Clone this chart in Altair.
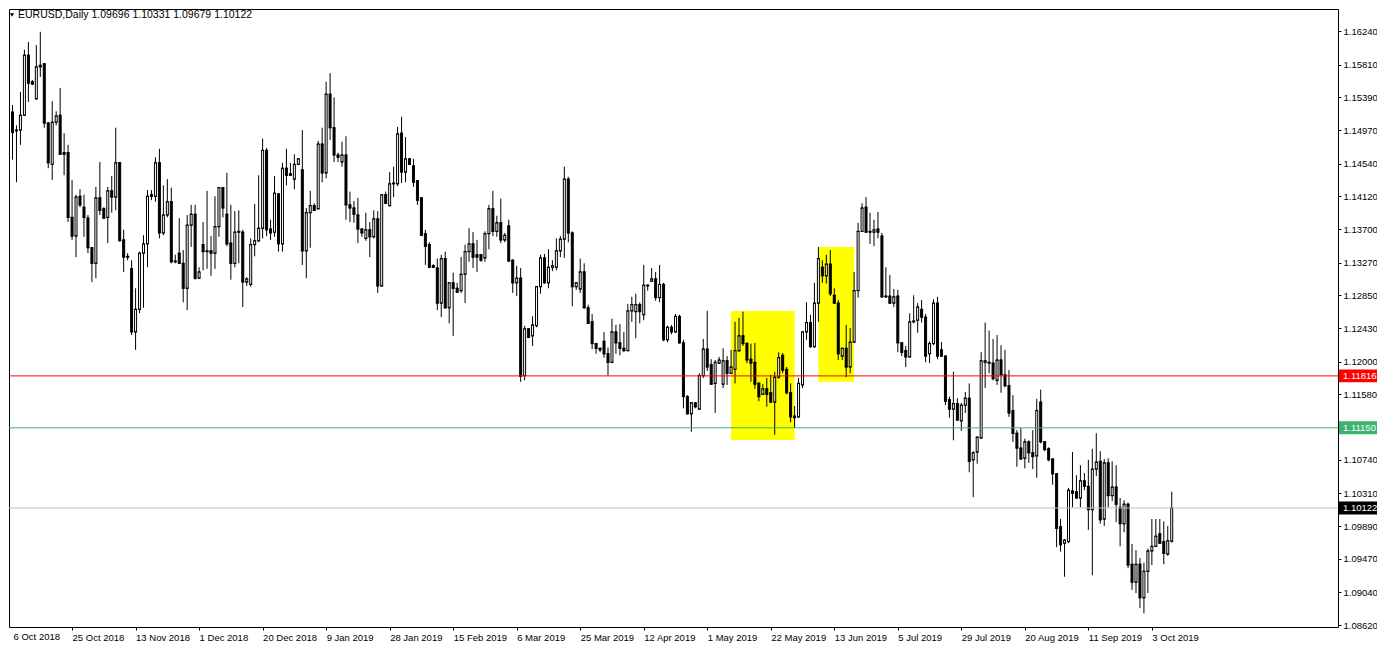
import json
import altair as alt
import pandas as pd

SYMBOL = "EURUSD,Daily"

OPEN = [
    1.1525, 1.1520, 1.1497, 1.1497, 1.1516, 1.1593, 1.1559, 1.1537, 1.1578, 1.1582,
    1.1506, 1.1453, 1.1507, 1.1516, 1.1468, 1.1468, 1.1385, 1.1361, 1.1412, 1.1398,
    1.1384, 1.1346, 1.1326, 1.1410, 1.1396, 1.1385, 1.1419, 1.1411, 1.1455, 1.1356,
    1.1335, 1.1319, 1.1238, 1.1267, 1.1339, 1.1351, 1.1414, 1.1412, 1.1455, 1.1365,
    1.1388, 1.1405, 1.1329, 1.1339, 1.1326, 1.1294, 1.1375, 1.1389, 1.1307, 1.1350,
    1.1342, 1.1342, 1.1339, 1.1373, 1.1423, 1.1389, 1.1352, 1.1326, 1.1367, 1.1366,
    1.1302, 1.1299, 1.1350, 1.1355, 1.1371, 1.1471, 1.1370, 1.1366, 1.1415, 1.1351,
    1.1448, 1.1441, 1.1434, 1.1453, 1.1446, 1.1342, 1.1391, 1.1400, 1.1396, 1.1479,
    1.1442, 1.1543, 1.1500, 1.1465, 1.1456, 1.1465, 1.1401, 1.1397, 1.1388, 1.1370,
    1.1358, 1.1369, 1.1360, 1.1383, 1.1297, 1.1414, 1.1400, 1.1428, 1.1428, 1.1493,
    1.1443, 1.1460, 1.1451, 1.1432, 1.1410, 1.1364, 1.1350, 1.1323, 1.1320, 1.1275,
    1.1332, 1.1269, 1.1301, 1.1294, 1.1291, 1.1312, 1.1341, 1.1351, 1.1337, 1.1337,
    1.1333, 1.1364, 1.1396, 1.1367, 1.1378, 1.1356, 1.1374, 1.1330, 1.1301, 1.1307,
    1.1182, 1.1242, 1.1233, 1.1246, 1.1296, 1.1333, 1.1301, 1.1321, 1.1321, 1.1342,
    1.1357, 1.1434, 1.1365, 1.1296, 1.1293, 1.1315, 1.1269, 1.1251, 1.1223, 1.1217,
    1.1226, 1.1210, 1.1199, 1.1238, 1.1224, 1.1217, 1.1214, 1.1265, 1.1264, 1.1273,
    1.1260, 1.1297, 1.1303, 1.1306, 1.1282, 1.1299, 1.1228, 1.1244, 1.1238, 1.1258,
    1.1224, 1.1155, 1.1133, 1.1147, 1.1139, 1.1182, 1.1216, 1.1196, 1.1172, 1.1198,
    1.1171, 1.1201, 1.1185, 1.1190, 1.1214, 1.1233, 1.1223, 1.1203, 1.1199, 1.1172,
    1.1158, 1.1165, 1.1160, 1.1148, 1.1180, 1.1208, 1.1190, 1.1160, 1.1130, 1.1129,
    1.1170, 1.1238, 1.1250, 1.1219, 1.1275, 1.1321, 1.1310, 1.1325, 1.1285, 1.1275,
    1.1207, 1.1217, 1.1193, 1.1225, 1.1291, 1.1367, 1.1398, 1.1367, 1.1366, 1.1370,
    1.1361, 1.1283, 1.1284, 1.1275, 1.1284, 1.1224, 1.1214, 1.1206, 1.1251, 1.1253,
    1.1267, 1.1257, 1.1210, 1.1223, 1.1275, 1.1215, 1.1207, 1.1151, 1.1139, 1.1146,
    1.1124, 1.1144, 1.1153, 1.1074, 1.1084, 1.1102, 1.1199, 1.1199, 1.1198, 1.1176,
    1.1202, 1.1183, 1.1169, 1.1137, 1.1108, 1.1089, 1.1076, 1.1097, 1.1083, 1.1079,
    1.1148, 1.1097, 1.1088, 1.1075, 1.1056, 1.0988, 1.0967, 1.0969, 1.1034, 1.1033,
    1.1025, 1.1047, 1.1040, 1.1010, 1.1062, 1.1072, 1.0998, 1.1070, 1.1028, 1.1039,
    1.1013, 1.0992, 1.1017, 1.0940, 1.0917, 1.0940, 1.0897, 1.0931, 1.0957, 1.0963,
    1.0979, 1.0969, 1.0953, 1.09696,
]

HIGH = [
    1.1528, 1.1529, 1.1503, 1.1546, 1.1600, 1.1610, 1.1561, 1.1606, 1.1623, 1.1583,
    1.1507, 1.1534, 1.1521, 1.1551, 1.1493, 1.1478, 1.1433, 1.1414, 1.1421, 1.1414,
    1.1388, 1.1347, 1.1424, 1.1456, 1.1398, 1.1424, 1.1438, 1.1500, 1.1456, 1.1369,
    1.1339, 1.1330, 1.1294, 1.1341, 1.1362, 1.1420, 1.1420, 1.1462, 1.1473, 1.1426,
    1.1434, 1.1423, 1.1337, 1.1384, 1.1343, 1.1388, 1.1401, 1.1401, 1.1321, 1.1379,
    1.1419, 1.1361, 1.1412, 1.1424, 1.1424, 1.1442, 1.1401, 1.1393, 1.1394, 1.1369,
    1.1308, 1.1358, 1.1402, 1.1439, 1.1486, 1.1474, 1.1382, 1.1438, 1.1416, 1.1455,
    1.1473, 1.1455, 1.1466, 1.1461, 1.1497, 1.1397, 1.1419, 1.1403, 1.1483, 1.1500,
    1.1559, 1.1570, 1.1539, 1.1468, 1.1482, 1.1489, 1.1418, 1.1406, 1.1410, 1.1371,
    1.1391, 1.1379, 1.1394, 1.1393, 1.1415, 1.1418, 1.1443, 1.1450, 1.1501, 1.1514,
    1.1488, 1.1461, 1.1460, 1.1432, 1.1410, 1.1369, 1.1353, 1.1325, 1.1332, 1.1337,
    1.1341, 1.1302, 1.1314, 1.1301, 1.1334, 1.1350, 1.1371, 1.1366, 1.1356, 1.1338,
    1.1367, 1.1401, 1.1419, 1.1387, 1.1409, 1.1365, 1.1382, 1.1331, 1.1323, 1.1320,
    1.1246, 1.1243, 1.1258, 1.1297, 1.1337, 1.1338, 1.1344, 1.1330, 1.1358, 1.1361,
    1.1450, 1.1437, 1.1367, 1.1302, 1.1332, 1.1326, 1.1273, 1.1261, 1.1224, 1.1218,
    1.1238, 1.1218, 1.1255, 1.1247, 1.1248, 1.1238, 1.1274, 1.1283, 1.1287, 1.1276,
    1.1324, 1.1299, 1.1320, 1.1315, 1.1324, 1.1301, 1.1246, 1.1247, 1.1261, 1.1260,
    1.1228, 1.1157, 1.1148, 1.1148, 1.1185, 1.1229, 1.1265, 1.1203, 1.1202, 1.1206,
    1.1217, 1.1207, 1.1215, 1.1251, 1.1256, 1.1264, 1.1225, 1.1223, 1.1224, 1.1174,
    1.1171, 1.1179, 1.1183, 1.1187, 1.1212, 1.1211, 1.1193, 1.1172, 1.1143, 1.1179,
    1.1239, 1.1276, 1.1260, 1.1301, 1.1347, 1.1330, 1.1337, 1.1343, 1.1294, 1.1279,
    1.1218, 1.1247, 1.1243, 1.1315, 1.1378, 1.1403, 1.1411, 1.1391, 1.1382, 1.1392,
    1.1365, 1.1321, 1.1311, 1.1293, 1.1292, 1.1225, 1.1220, 1.1262, 1.1285, 1.1275,
    1.1279, 1.1261, 1.1226, 1.1280, 1.1283, 1.1225, 1.1208, 1.1155, 1.1187, 1.1153,
    1.1147, 1.1161, 1.1172, 1.1085, 1.1104, 1.1212, 1.1250, 1.1240, 1.1229, 1.1234,
    1.1221, 1.1215, 1.1189, 1.1157, 1.1112, 1.1115, 1.1101, 1.1099, 1.1112, 1.1152,
    1.1164, 1.1098, 1.1090, 1.1076, 1.1057, 1.0998, 1.0972, 1.1038, 1.1084, 1.1054,
    1.1067, 1.1057, 1.1074, 1.1088, 1.1108, 1.1085, 1.1075, 1.1076, 1.1072, 1.1067,
    1.1025, 1.1022, 1.1019, 1.0966, 1.0958, 1.0948, 1.0942, 1.0960, 1.0998, 1.0998,
    1.0998, 1.0995, 1.0989, 1.10331,
]

LOW = [
    1.1515, 1.1459, 1.1430, 1.1478, 1.1515, 1.1533, 1.1555, 1.1536, 1.1565, 1.1500,
    1.1448, 1.1433, 1.1503, 1.1465, 1.1439, 1.1379, 1.1356, 1.1334, 1.1398, 1.1360,
    1.1339, 1.1302, 1.1307, 1.1388, 1.1383, 1.1352, 1.1391, 1.1394, 1.1354, 1.1315,
    1.1330, 1.1234, 1.1215, 1.1262, 1.1269, 1.1321, 1.1407, 1.1405, 1.1358, 1.1362,
    1.1385, 1.1326, 1.1326, 1.1325, 1.1276, 1.1266, 1.1347, 1.1305, 1.1306, 1.1317,
    1.1319, 1.1310, 1.1319, 1.1360, 1.1385, 1.1348, 1.1305, 1.1321, 1.1326, 1.1270,
    1.1297, 1.1296, 1.1335, 1.1353, 1.1358, 1.1361, 1.1356, 1.1360, 1.1341, 1.1341,
    1.1426, 1.1438, 1.1421, 1.1452, 1.1324, 1.1307, 1.1346, 1.1393, 1.1395, 1.1430,
    1.1435, 1.1484, 1.1456, 1.1456, 1.1450, 1.1382, 1.1379, 1.1378, 1.1352, 1.1360,
    1.1355, 1.1334, 1.1358, 1.1288, 1.1296, 1.1402, 1.1399, 1.1411, 1.1425, 1.1429,
    1.1430, 1.1452, 1.1424, 1.1401, 1.1361, 1.1324, 1.1320, 1.1320, 1.1266, 1.1257,
    1.1268, 1.1249, 1.1233, 1.1288, 1.1288, 1.1275, 1.1328, 1.1320, 1.1315, 1.1328,
    1.1328, 1.1344, 1.1361, 1.1360, 1.1352, 1.1353, 1.1328, 1.1288, 1.1284, 1.1174,
    1.1176, 1.1230, 1.1220, 1.1244, 1.1287, 1.1300, 1.1294, 1.1316, 1.1317, 1.1334,
    1.1333, 1.1353, 1.1271, 1.1292, 1.1288, 1.1268, 1.1248, 1.1216, 1.1210, 1.1212,
    1.1205, 1.1182, 1.1198, 1.1210, 1.1208, 1.1212, 1.1213, 1.1251, 1.1230, 1.1249,
    1.1253, 1.1291, 1.1302, 1.1278, 1.1276, 1.1226, 1.1225, 1.1235, 1.1237, 1.1223,
    1.1140, 1.1132, 1.1110, 1.1140, 1.1138, 1.1179, 1.1188, 1.1170, 1.1134, 1.1197,
    1.1166, 1.1170, 1.1184, 1.1172, 1.1212, 1.1220, 1.1198, 1.1174, 1.1165, 1.1149,
    1.1157, 1.1142, 1.1147, 1.1106, 1.1178, 1.1185, 1.1158, 1.1122, 1.1115, 1.1128,
    1.1166, 1.1228, 1.1218, 1.1218, 1.1251, 1.1301, 1.1300, 1.1284, 1.1274, 1.1202,
    1.1202, 1.1180, 1.1185, 1.1224, 1.1282, 1.1366, 1.1365, 1.1351, 1.1348, 1.1358,
    1.1282, 1.1282, 1.1274, 1.1270, 1.1212, 1.1207, 1.1193, 1.1205, 1.1249, 1.1237,
    1.1250, 1.1199, 1.1198, 1.1221, 1.1203, 1.1206, 1.1144, 1.1128, 1.1099, 1.1124,
    1.1111, 1.1134, 1.1058, 1.1026, 1.1069, 1.1101, 1.1166, 1.1185, 1.1176, 1.1170,
    1.1160, 1.1167, 1.1129, 1.1097, 1.1065, 1.1074, 1.1063, 1.1070, 1.1062, 1.1051,
    1.1095, 1.1085, 1.1072, 1.1042, 1.0962, 1.0956, 1.0924, 1.0967, 1.1013, 1.1024,
    1.1013, 1.1035, 1.0984, 1.0926, 1.1053, 1.0992, 1.0989, 1.1013, 1.1021, 1.0994,
    1.0963, 1.0981, 1.0935, 1.0907, 1.0903, 1.0884, 1.0877, 1.0903, 1.0939, 1.0962,
    1.0966, 1.0940, 1.0951, 1.09679,
]

CLOSE = [
    1.1518, 1.1494, 1.1496, 1.1516, 1.1593, 1.1557, 1.1556, 1.1578, 1.1580, 1.1506,
    1.1455, 1.1507, 1.1515, 1.1466, 1.1466, 1.1385, 1.1361, 1.1411, 1.1401, 1.1385,
    1.1346, 1.1326, 1.1410, 1.1394, 1.1384, 1.1419, 1.1411, 1.1455, 1.1355, 1.1334,
    1.1334, 1.1238, 1.1267, 1.1339, 1.1351, 1.1412, 1.1412, 1.1455, 1.1365, 1.1388,
    1.1405, 1.1328, 1.1328, 1.1326, 1.1294, 1.1375, 1.1389, 1.1307, 1.1315, 1.1341,
    1.1341, 1.1339, 1.1373, 1.1423, 1.1397, 1.1351, 1.1326, 1.1366, 1.1366, 1.1302,
    1.1306, 1.1350, 1.1355, 1.1371, 1.1471, 1.1369, 1.1365, 1.1416, 1.1351, 1.1448,
    1.1439, 1.1439, 1.1453, 1.1460, 1.1342, 1.1391, 1.1400, 1.1394, 1.1479, 1.1442,
    1.1543, 1.1500, 1.1465, 1.1462, 1.1465, 1.1401, 1.1397, 1.1389, 1.1370, 1.1365,
    1.1369, 1.1360, 1.1383, 1.1297, 1.1414, 1.1403, 1.1428, 1.1429, 1.1492, 1.1443,
    1.1460, 1.1453, 1.1430, 1.1407, 1.1362, 1.1348, 1.1321, 1.1321, 1.1275, 1.1332,
    1.1269, 1.1301, 1.1294, 1.1289, 1.1312, 1.1341, 1.1351, 1.1334, 1.1334, 1.1330,
    1.1364, 1.1396, 1.1367, 1.1378, 1.1356, 1.1362, 1.1329, 1.1301, 1.1307, 1.1181,
    1.1242, 1.1231, 1.1247, 1.1296, 1.1333, 1.1301, 1.1321, 1.1323, 1.1342, 1.1357,
    1.1434, 1.1365, 1.1296, 1.1301, 1.1315, 1.1269, 1.1249, 1.1223, 1.1217, 1.1215,
    1.1210, 1.1199, 1.1238, 1.1224, 1.1217, 1.1214, 1.1265, 1.1273, 1.1273, 1.1264,
    1.1298, 1.1298, 1.1306, 1.1282, 1.1299, 1.1228, 1.1244, 1.1238, 1.1258, 1.1224,
    1.1155, 1.1133, 1.1147, 1.1142, 1.1182, 1.1216, 1.1193, 1.1171, 1.1199, 1.1202,
    1.1201, 1.1185, 1.1193, 1.1214, 1.1233, 1.1223, 1.1202, 1.1198, 1.1171, 1.1155,
    1.1165, 1.1158, 1.1148, 1.1180, 1.1205, 1.1189, 1.1160, 1.1129, 1.1128, 1.1172,
    1.1238, 1.1250, 1.1219, 1.1275, 1.1332, 1.1310, 1.1325, 1.1287, 1.1275, 1.1210,
    1.1217, 1.1193, 1.1225, 1.1291, 1.1367, 1.1397, 1.1366, 1.1366, 1.1369, 1.1366,
    1.1283, 1.1284, 1.1275, 1.1283, 1.1224, 1.1212, 1.1206, 1.1251, 1.1252, 1.1270,
    1.1257, 1.1207, 1.1223, 1.1275, 1.1207, 1.1207, 1.1149, 1.1139, 1.1146, 1.1125,
    1.1144, 1.1153, 1.1072, 1.1083, 1.1103, 1.1201, 1.1201, 1.1198, 1.1178, 1.1202,
    1.1183, 1.1169, 1.1134, 1.1108, 1.1089, 1.1075, 1.1097, 1.1083, 1.1078, 1.1137,
    1.1097, 1.1087, 1.1074, 1.1056, 1.0986, 1.0965, 1.0971, 1.1035, 1.1031, 1.1025,
    1.1047, 1.1040, 1.1010, 1.1062, 1.1071, 1.0997, 1.1070, 1.1028, 1.1039, 1.1017,
    1.0992, 1.1017, 1.0939, 1.0917, 1.0940, 1.0897, 1.0931, 1.0957, 1.0963, 1.0976,
    1.0967, 1.0954, 1.0970, 1.10122,
]

DATE_LABELS = [
    "6 Oct 2018", "25 Oct 2018", "13 Nov 2018", "1 Dec 2018", "20 Dec 2018",
    "9 Jan 2019", "28 Jan 2019", "15 Feb 2019", "6 Mar 2019", "25 Mar 2019",
    "12 Apr 2019", "1 May 2019", "22 May 2019", "13 Jun 2019", "5 Jul 2019",
    "29 Jul 2019", "20 Aug 2019", "11 Sep 2019", "3 Oct 2019",
]
DATE_STEP = 16  # bars between two date labels

PRICE_TICKS = [
    1.16240, 1.15810, 1.15390, 1.14970, 1.14540, 1.14120, 1.13700, 1.13270,
    1.12850, 1.12430, 1.12000, 1.11580, 1.11150, 1.10740, 1.10310, 1.09890,
    1.09470, 1.09040, 1.08620,
]

LEVEL_PRICES = [1.11816, 1.11150]
LEVEL_COLORS = ["#ff0000", "#3cb371"]
BID_COLOR = "#c0c0c0"

ZONE_START = [182, 204]
ZONE_END = [198, 213]
ZONE_TOP = [1.12649, 1.13470]
ZONE_BOTTOM = [1.10994, 1.11742]

FONT = "Liberation Sans"
PLOT_W, PLOT_H = 1329, 618

n = len(OPEN)
bars = pd.DataFrame({"i": list(range(n)), "open": OPEN, "high": HIGH,
                     "low": LOW, "close": CLOSE})
bars["top"] = bars[["open", "close"]].max(axis=1)
bars["bottom"] = bars[["open", "close"]].min(axis=1)
bars["dir"] = ["up" if c >= o else "down" for o, c in zip(OPEN, CLOSE)]

x_scale = alt.Scale(domain=[1.375, 333.625], nice=False, zero=False)
y_scale = alt.Scale(domain=[1.08595, 1.165225], nice=False, zero=False)

label_expr = json.dumps(DATE_LABELS) + "[round(datum.value / %d)]" % DATE_STEP
x_axis = alt.Axis(
    values=[DATE_STEP * j for j in range(1, len(DATE_LABELS))],
    labelExpr=label_expr, labelAlign="left", labelBaseline="top",
    labelFont=FONT, labelFontSize=9.5, labelColor="black",
    tickColor="black", tickSize=3, labelPadding=2, domain=False,
    grid=False, title=None, labelOverlap=False, labelFlush=False,
)
y_axis = alt.Axis(
    orient="right",
    values=[t for t in PRICE_TICKS if all(abs(t - l) > 1e-6 for l in LEVEL_PRICES)],
    format=".5f", labelFont=FONT, labelFontSize=9.5, labelColor="black",
    tickColor="black", tickSize=3, labelPadding=2, domain=False,
    grid=False, title=None, labelOverlap=False, labelFlush=False,
)


def X(field):
    return alt.X(field, scale=x_scale, axis=x_axis)


def Y(field):
    return alt.Y(field, scale=y_scale, axis=y_axis)


base = alt.Chart(bars)

zones = alt.Chart(pd.DataFrame({"x1": ZONE_START, "x2": ZONE_END,
                                "top": ZONE_TOP, "bottom": ZONE_BOTTOM})).mark_rect(
    color="#ffff00", clip=True
).encode(x=X("x1:Q"), x2="x2:Q", y=Y("top:Q"), y2="bottom:Q")

wicks = base.mark_rule(color="black", strokeWidth=1, clip=True).encode(
    x=X("i:Q"), y=Y("low:Q"), y2="high:Q",
)

bodies = base.mark_bar(size=2, stroke="black", strokeWidth=1, orient="vertical",
                       clip=True).encode(
    x=X("i:Q"), y=Y("bottom:Q"), y2="top:Q",
    fill=alt.Fill("dir:N", scale=alt.Scale(domain=["up", "down"],
                                             range=["white", "black"]), legend=None),
)

open_ticks = base.mark_tick(orient="horizontal", size=3, thickness=1, color="black",
                            clip=True, opacity=1).encode(x=X("i:Q"), y=Y("open:Q"))
close_ticks = base.mark_tick(orient="horizontal", size=3, thickness=1, color="black",
                             clip=True, opacity=1).encode(x=X("i:Q"), y=Y("close:Q"))

last_close = CLOSE[-1]
levels = pd.DataFrame({
    "price": LEVEL_PRICES + [last_close],
    "line": LEVEL_COLORS + [BID_COLOR],
    "box": LEVEL_COLORS + ["#000000"],
    "label": ["%.5f" % p for p in LEVEL_PRICES + [last_close]],
})
levels["box_top"] = levels["price"] + 0.00083
levels["box_bottom"] = levels["price"] - 0.00083

level_lines = alt.Chart(levels).mark_rule(strokeWidth=1).encode(
    y=Y("price:Q"), color=alt.Color("line:N", scale=None),
)

level_boxes = alt.Chart(levels).mark_rect(clip=False).encode(
    x=alt.value(PLOT_W + 1), x2=alt.value(PLOT_W + 39),
    y=Y("box_top:Q"), y2="box_bottom:Q",
    color=alt.Color("box:N", scale=None),
)
level_text = alt.Chart(levels).mark_text(
    align="left", baseline="middle", font=FONT, fontSize=9.5, color="white", clip=False
).encode(x=alt.value(PLOT_W + 5), y=Y("price:Q"), text="label:N")

first_label = alt.Chart(pd.DataFrame({"i": [0], "label": [DATE_LABELS[0]]})).mark_text(
    align="left", baseline="top", font=FONT, fontSize=9.5, color="black", dx=5, clip=False
).encode(x=X("i:Q"), y=alt.value(PLOT_H + 5), text="label:N")

header = "%s  %.5f %.5f %.5f %.5f" % (SYMBOL, OPEN[-1], HIGH[-1], LOW[-1], CLOSE[-1])
header_text = alt.Chart(pd.DataFrame({"t": [header]})).mark_text(
    align="left", baseline="top", font=FONT, fontSize=10.5, color="black"
).encode(x=alt.value(9), y=alt.value(1), text="t:N")
header_tri = alt.Chart(pd.DataFrame({"t": [header]})).mark_point(
    shape="triangle-down", filled=True, size=18, color="black", opacity=1
).encode(x=alt.value(3), y=alt.value(6))

chart = alt.layer(
    zones, wicks, bodies, open_ticks, close_ticks, level_lines,
    level_boxes, level_text, first_label, header_text, header_tri,
).properties(
    width=PLOT_W, height=PLOT_H,
    padding={"left": 1, "top": 1, "right": 39, "bottom": 18},
    autosize=alt.AutoSizeParams(type="none"),
).configure(background="white").configure_view(stroke="black", strokeWidth=1)

chart.save("out.html", embed_options={"renderer": "svg", "actions": False})
